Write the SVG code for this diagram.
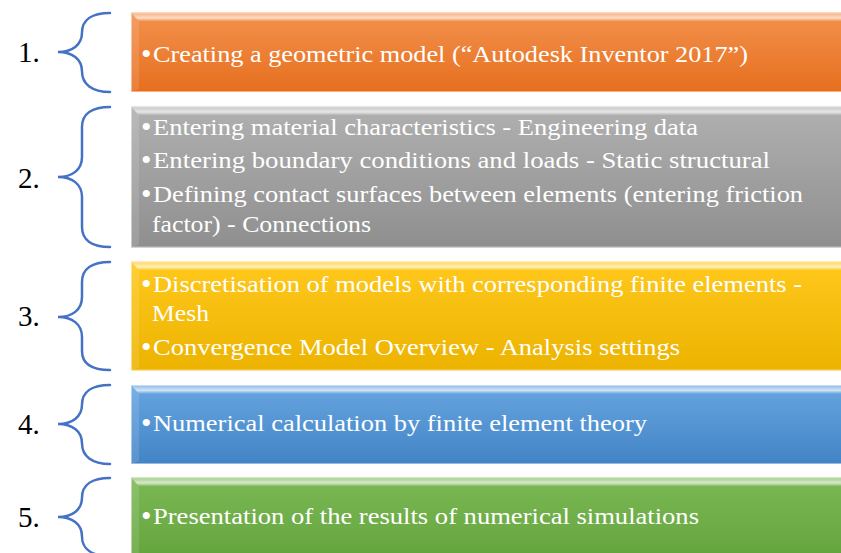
<svg xmlns="http://www.w3.org/2000/svg" width="841" height="553" viewBox="0 0 841 553">
<defs>
<linearGradient id="gOrange" x1="0" y1="0" x2="0" y2="1"><stop offset="0" stop-color="#F3914D"/><stop offset="1" stop-color="#E66F1E"/></linearGradient>
<linearGradient id="gGray" x1="0" y1="0" x2="0" y2="1"><stop offset="0" stop-color="#B0B0B0"/><stop offset="1" stop-color="#8F8F8F"/></linearGradient>
<linearGradient id="gYellow" x1="0" y1="0" x2="0" y2="1"><stop offset="0" stop-color="#FFC81C"/><stop offset="1" stop-color="#ECB300"/></linearGradient>
<linearGradient id="gBlue" x1="0" y1="0" x2="0" y2="1"><stop offset="0" stop-color="#66A5E0"/><stop offset="1" stop-color="#4384C6"/></linearGradient>
<linearGradient id="gGreen" x1="0" y1="0" x2="0" y2="1"><stop offset="0" stop-color="#7BB855"/><stop offset="1" stop-color="#62A23A"/></linearGradient>
<linearGradient id="topBev" x1="0" y1="0" x2="0" y2="1"><stop offset="0" stop-color="#fff" stop-opacity="0.25"/><stop offset="0.6" stop-color="#fff" stop-opacity="0.7"/><stop offset="1" stop-color="#fff" stop-opacity="0"/></linearGradient>
</defs>
<style>
.num{font-family:"Liberation Serif","Times New Roman",serif;font-size:29px;fill:#000}
.t{font-family:"Liberation Serif","Times New Roman",serif;font-size:24px;fill:#fff}
.b{font-family:"Liberation Serif","Times New Roman",serif;font-size:30px;fill:#fff}
.brace{fill:none;stroke:#4472C4;stroke-width:2.5;stroke-linecap:round}
.edge{fill:none;stroke:#fff;stroke-opacity:0.45;stroke-width:1}
.lbev{fill:#fff;fill-opacity:0.12}
.tbev{fill:url(#topBev)}
</style>

<g id="connectors">
<path class="brace" d="M110,13 C92,13 82,20 82,32.5 C82,45 72,52 58,52 C72,52 82,59 82,71.5 C82,84 92,92 110,92"/>
<path class="brace" d="M110,107 C92,107 82,114 82,127 L82,157 C82,170 72,177 58,177 C72,177 82,184 82,197 L82,227 C82,240 92,247 110,247"/>
<path class="brace" d="M110,262 C92,262 82,269 82,282 L82,297 C82,310 72,317 58,317 C72,317 82,324 82,337 L82,351 C82,364 92,370 110,370"/>
<path class="brace" d="M110,385 C92,385 82,392 82,404.5 C82,417 72,424 58,424 C72,424 82,431 82,443.5 C82,456 92,464 110,464"/>
<path class="brace" d="M110,478 C92,478 82,485 82,497.5 C82,510 72,517 58,517 C72,517 82,524 82,536.5 C82,549 92,556 110,556"/>
</g>

<g id="step1">
<text class="num" x="18" y="62">1.</text>
<rect x="131" y="12.5" width="720" height="79.5" fill="url(#gOrange)"/>
<polygon class="tbev" points="131,12.5 851,12.5 851,21.5 139,21.5"/>
<polygon class="lbev" points="131,12.5 139,21.5 139,89 131,92"/>
<rect class="edge" x="131.5" y="13" width="720" height="78.5"/>
<text class="b" x="141" y="64">•</text>
<text class="t" x="153" y="62" textLength="595" lengthAdjust="spacingAndGlyphs">Creating a geometric model (“Autodesk Inventor 2017”)</text>
</g>

<g id="step2">
<text class="num" x="18" y="188">2.</text>
<rect x="131" y="106.5" width="720" height="141" fill="url(#gGray)"/>
<polygon class="tbev" points="131,106.5 851,106.5 851,115.5 139,115.5"/>
<polygon class="lbev" points="131,106.5 139,115.5 139,244.5 131,247.5"/>
<rect class="edge" x="131.5" y="107" width="720" height="140"/>
<text class="b" x="141" y="137">•</text>
<text class="t" x="153" y="135" textLength="545" lengthAdjust="spacingAndGlyphs">Entering material characteristics - Engineering data</text>
<text class="b" x="141" y="170">•</text>
<text class="t" x="153" y="168" textLength="617" lengthAdjust="spacingAndGlyphs">Entering boundary conditions and loads - Static structural</text>
<text class="b" x="141" y="204">•</text>
<text class="t" x="153" y="202" textLength="650" lengthAdjust="spacingAndGlyphs">Defining contact surfaces between elements (entering friction</text>
<text class="t" x="152" y="232" textLength="219" lengthAdjust="spacingAndGlyphs">factor) - Connections</text>
</g>

<g id="step3">
<text class="num" x="18" y="326">3.</text>
<rect x="131" y="261.5" width="720" height="109" fill="url(#gYellow)"/>
<polygon class="tbev" points="131,261.5 851,261.5 851,270.5 139,270.5"/>
<polygon class="lbev" points="131,261.5 139,270.5 139,367.5 131,370.5"/>
<rect class="edge" x="131.5" y="262" width="720" height="108"/>
<text class="b" x="141" y="294">•</text>
<text class="t" x="153" y="292" textLength="649" lengthAdjust="spacingAndGlyphs">Discretisation of models with corresponding finite elements -</text>
<text class="t" x="152" y="321" textLength="57" lengthAdjust="spacingAndGlyphs">Mesh</text>
<text class="b" x="141" y="357">•</text>
<text class="t" x="153" y="355" textLength="527" lengthAdjust="spacingAndGlyphs">Convergence Model Overview - Analysis settings</text>
</g>

<g id="step4">
<text class="num" x="18" y="434">4.</text>
<rect x="131" y="385" width="720" height="79" fill="url(#gBlue)"/>
<polygon class="tbev" points="131,385 851,385 851,394 139,394"/>
<polygon class="lbev" points="131,385 139,394 139,461 131,464"/>
<rect class="edge" x="131.5" y="385.5" width="720" height="78"/>
<text class="b" x="141" y="433">•</text>
<text class="t" x="153" y="431" textLength="494" lengthAdjust="spacingAndGlyphs">Numerical calculation by finite element theory</text>
</g>

<g id="step5">
<text class="num" x="18" y="527">5.</text>
<rect x="131" y="477.5" width="720" height="90" fill="url(#gGreen)"/>
<polygon class="tbev" points="131,477.5 851,477.5 851,486.5 139,486.5"/>
<polygon class="lbev" points="131,477.5 139,486.5 139,560 131,560"/>
<rect class="edge" x="131.5" y="478" width="720" height="90"/>
<text class="b" x="141" y="526">•</text>
<text class="t" x="153" y="524" textLength="546" lengthAdjust="spacingAndGlyphs">Presentation of the results of numerical simulations</text>
</g>
</svg>
